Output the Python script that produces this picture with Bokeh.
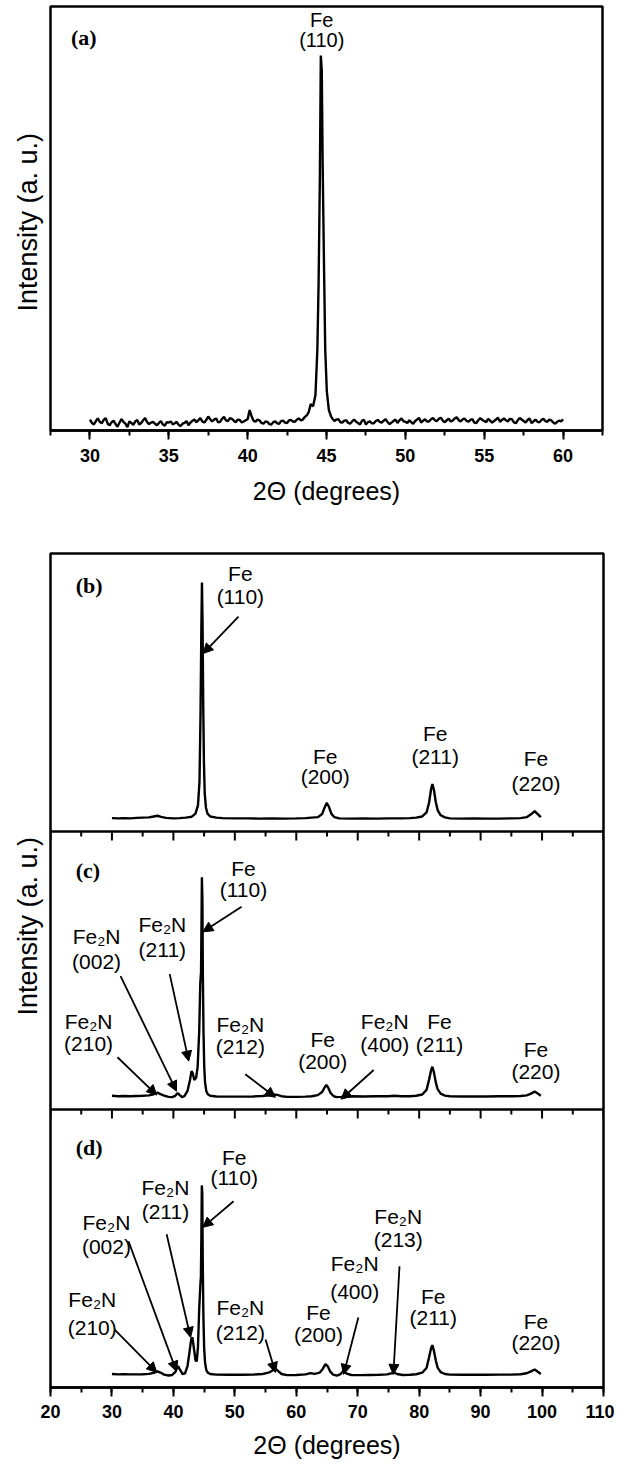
import numpy as np
from bokeh.plotting import figure
from bokeh.layouts import column
from bokeh.models import Range1d, SingleIntervalTicker, Arrow, NormalHead, Span, ColumnDataSource, Title
from bokeh.core.properties import value
from bokeh.embed import file_html
from bokeh.resources import INLINE

# ---------------- data ----------------
a_x = [30.0,30.125,30.25,30.375,30.5,30.625,30.75,30.875, 31.0,31.125,31.25,31.375,31.5,31.625,31.75,31.875,
       32.0,32.125,32.25,32.375,32.5,32.625,32.75,32.875, 33.0,33.125,33.25,33.375,33.5,33.625,33.75,33.875,
       34.0,34.125,34.25,34.375,34.5,34.625,34.75,34.875, 35.0,35.125,35.25,35.375,35.5,35.625,35.75,35.875,
       36.0,36.125,36.25,36.375,36.5,36.625,36.75,36.875, 37.0,37.125,37.25,37.375,37.5,37.625,37.75,37.875,
       38.0,38.125,38.25,38.375,38.5,38.625,38.75,38.875, 39.0,39.125,39.25,39.375,39.5,39.625,39.75,39.875,
       40.0,40.125,40.25,40.375,40.5,40.625,40.75,40.875, 41.0,41.125,41.25,41.375,41.5,41.625,41.75,41.875,
       42.0,42.125,42.25,42.375,42.5,42.625,42.75,42.875, 43.0,43.125,43.25,43.375,43.5,43.625,43.75,43.875,
       44.0,44.15,44.3,44.42,44.5,44.58,44.64,44.7,44.76,44.84,44.92,45.02,45.15,45.3,45.4,
       45.5,45.625,45.75,45.875,46.0,46.125,46.25,46.375, 46.5,46.625,46.75,46.875,47.0,47.125,47.25,47.375,
       47.5,47.625,47.75,47.875,48.0,48.125,48.25,48.375, 48.5,48.625,48.75,48.875,49.0,49.125,49.25,49.375,
       49.5,49.625,49.75,49.875,50.0,50.125,50.25,50.375, 50.5,50.625,50.75,50.875,51.0,51.125,51.25,51.375,
       51.5,51.625,51.75,51.875,52.0,52.125,52.25,52.375, 52.5,52.625,52.75,52.875,53.0,53.125,53.25,53.375,
       53.5,53.625,53.75,53.875,54.0,54.125,54.25,54.375, 54.5,54.625,54.75,54.875,55.0,55.125,55.25,55.375,
       55.5,55.625,55.75,55.875,56.0,56.125,56.25,56.375, 56.5,56.625,56.75,56.875,57.0,57.125,57.25,57.375,
       57.5,57.625,57.75,57.875,58.0,58.125,58.25,58.375, 58.5,58.625,58.75,58.875,59.0,59.125,59.25,59.375,
       59.5,59.625,59.75,59.875,60.0]
a_y = [3.5,2.6,2.2,3.1,3.8,2.9,2.5,3.4, 3.9,2.4,2.0,2.8,3.2,2.3,1.6,2.7,
       3.6,2.9,2.4,1.5,3.0,2.6,2.1,3.0, 3.4,2.2,2.6,3.3,3.9,2.8,2.3,2.7,
       2.9,2.4,2.0,2.6,3.1,2.2,1.9,2.8, 2.7,3.0,2.2,2.5,2.9,2.1,1.8,2.4,
       2.6,3.1,2.0,2.7,3.2,3.5,2.8,3.3, 3.9,3.0,2.7,3.4,4.3,3.6,3.0,3.5,
       3.8,2.8,2.9,3.7,4.2,3.3,3.1,3.9, 3.7,3.2,2.8,3.5,3.4,2.7,3.0,3.3,
       3.6,6.0,4.4,3.2,2.9,3.5,3.3,2.6, 2.4,3.0,2.9,2.3,2.2,2.8,3.0,2.5,
       2.4,3.1,3.2,2.7,2.6,3.3,3.4,3.0, 2.9,3.5,3.8,3.3,3.5,4.2,4.6,5.5,
       7.6,7.0,10,22,40,68,100,96,70,45,22,11,6,4.2,3.6,
       3.1,3.5,3.6,2.8,2.7,3.2,3.3,2.6, 2.4,3.0,3.5,2.9,2.6,2.2,3.2,3.4,
       2.2,2.8,3.0,2.5,2.5,3.1,3.4,2.9, 2.7,3.2,3.6,2.8,2.3,2.7,3.1,3.5,
       2.6,3.3,3.8,3.1,2.9,2.6,3.3,2.8, 2.4,3.1,3.5,3.9,2.7,3.2,3.6,3.0,
       3.0,3.6,3.9,3.3,3.1,3.7,4.0,3.2, 2.8,3.3,3.7,3.0,3.2,3.8,4.1,3.4,
       3.0,3.5,3.8,3.2,2.9,3.4,3.6,2.7, 2.6,3.3,3.9,3.4,3.1,2.8,3.7,3.2,
       2.7,3.1,3.5,4.0,2.9,3.4,3.8,3.3, 3.0,3.7,3.6,2.8,2.5,3.3,3.9,3.5,
       3.1,2.7,3.4,3.8,2.6,3.0,3.5,2.9, 2.8,3.4,3.7,3.1,2.9,3.5,3.3,2.7,
       2.4,2.9,3.2,3.0,3.6]

b_x = [30.0,31,32,33,34,35,36,36.8,37.4,38.0,38.8,40,41,42,43,43.6,44.0,44.25,44.42,44.55,44.65,44.75,44.85,44.97,
       45.1,45.3,45.55,46,47,48,50,52,54,56,58,60,61.5,62.5,63.5,64.2,64.6,64.95,65.3,65.7,66.2,67,69,71,73,75,77,
       78.5,79.5,80.5,81.2,81.6,81.95,82.15,82.4,82.7,83.0,83.5,84.2,85,87,89,91,93,95,96.5,97.5,98.2,98.8,99.3,99.8]
b_y = [0.6,0.5,0.6,0.5,0.7,0.8,0.9,1.3,1.6,1.1,0.7,0.5,0.6,0.8,1.2,2.5,6,16,45,80,100,82,50,24,
       11,5,2.5,1.3,0.8,0.6,0.5,0.5,0.4,0.5,0.4,0.5,0.6,0.8,1.0,2.3,5,7,5.5,2.5,1.0,0.5,0.4,0.5,0.4,0.5,0.5,
       0.6,0.8,1.3,3,7,13,15,12.5,7.5,4,1.8,0.9,0.5,0.4,0.5,0.4,0.4,0.5,0.6,1.0,2.2,3.5,2.3,1.0]

c_x = [30.0,31,32,33,34,35,36,36.8,37.4,37.9,38.5,39.2,39.8,40.3,40.7,41.0,41.4,41.8,42.3,42.7,42.95,43.15,43.4,43.7,
       43.95,44.2,44.38,44.5,44.58,44.64,44.72,44.8,44.9,45.02,45.15,45.35,45.6,46,47,49,51,53,54.5,55.5,56.3,56.9,
       57.6,58.5,60,61.5,62.5,63.5,64.2,64.6,64.9,65.2,65.6,66.1,66.6,67.3,68,69,71,73,75,76,77,78.5,79.5,80.5,81.2,
       81.6,81.95,82.15,82.4,82.7,83.0,83.5,84.2,85,87,89,91,93,95,96.5,97.5,98.2,98.8,99.3,99.8]
c_y = [0.8,0.6,0.7,0.6,0.7,0.8,1.0,1.5,2.2,1.6,0.9,0.3,0.2,0.8,2.0,1.2,0.2,0.6,3,8,12,11,8,9,
       14,30,52,57,80,100,90,55,30,14,7,3,1.5,0.8,0.5,0.4,0.4,0.5,0.7,1.0,1.4,1.2,
       0.6,0.3,0.3,0.4,0.6,1.1,2.5,4.5,5.8,4.5,2.0,0.6,0.2,0.3,0.5,0.6,0.5,0.6,0.6,0.8,0.6,0.6,0.8,1.4,3.5,
       8,12.5,14,11.5,7,3.8,1.8,0.9,0.6,0.5,0.5,0.5,0.6,0.6,0.7,1.0,1.8,2.7,1.8,0.8]

d_x = [30.0,31,32,33,34,35,36,36.8,37.4,37.9,38.5,39.2,39.8,40.3,40.75,41.1,41.5,41.9,42.3,42.65,42.9,43.1,43.35,
       43.6,43.8,44.0,44.2,44.38,44.48,44.56,44.63,44.7,44.78,44.88,45.0,45.15,45.35,45.6,46,47,49,51,53,54.5,55.5,
       56.2,56.6,57.0,57.6,58.5,60,61.5,62.3,63.0,63.8,64.3,64.75,65.1,65.5,66.0,66.6,67.2,67.7,68.2,69,70.5,72,73.5,
       74.8,75.5,75.9,76.4,77.3,78.5,79.5,80.5,81.2,81.6,81.95,82.15,82.4,82.7,83.0,83.5,84.2,85,87,89,91,93,95,
       96.5,97.5,98.2,98.8,99.3,99.8]
d_y = [0.8,0.6,0.7,0.6,0.6,0.7,0.9,1.4,2.2,1.6,0.5,0.0,0.3,1.8,5,3,0.8,1.2,5,13,19,20,14,
       8,7.5,15,35,47,52,75,100,96,60,32,15,7,3,1.5,0.8,0.5,0.4,0.4,0.5,0.8,1.5,
       2.8,3.5,2.5,0.8,0.2,0.3,0.6,1.3,0.9,1.5,3.5,6,5,2.2,0.5,0.0,0.8,2.5,1.0,0.3,0.2,0.3,0.4,
       0.6,1.2,1.6,0.8,0.3,0.4,0.7,1.5,4,9.5,14.5,16,13,8,4.2,1.8,0.8,0.5,0.4,0.4,0.4,0.5,0.5,
       0.7,1.2,2.2,3.2,2.0,0.8]

ticks_a = [30, 35, 40, 45, 50, 55, 60]
ticks_bcd = [20, 30, 40, 50, 60, 70, 80, 90, 100, 110]

# peak labels: (line1, line2, x, y_line1, y_line2)
labels_a = [("Fe", "(110)", 44.7, 109.5, 104.2)]
labels_bcd = [
    ("Fe", "(110)", 50.9, 2.928, 2.845), ("Fe", "(200)", 64.7, 2.269, 2.197),
    ("Fe", "(211)", 82.6, 2.352, 2.269), ("Fe", "(220)", 99.0, 2.262, 2.172),
    ("Fe", "(110)", 51.4, 1.866, 1.793), ("Fe\u2082N", "(211)", 38.2, 1.667, 1.577),
    ("Fe\u2082N", "(002)", 27.5, 1.621, 1.531), ("Fe\u2082N", "(210)", 26.2, 1.318, 1.239),
    ("Fe\u2082N", "(212)", 50.9, 1.307, 1.228), ("Fe", "(200)", 64.3, 1.253, 1.174),
    ("Fe\u2082N", "(400)", 74.4, 1.318, 1.235), ("Fe", "(211)", 83.3, 1.318, 1.235),
    ("Fe", "(220)", 99.0, 1.217, 1.138),
    ("Fe", "(110)", 49.9, 0.828, 0.756), ("Fe\u2082N", "(211)", 38.7, 0.720, 0.634),
    ("Fe\u2082N", "(002)", 29.1, 0.594, 0.508), ("Fe\u2082N", "(210)", 26.8, 0.317, 0.216),
    ("Fe\u2082N", "(212)", 50.9, 0.288, 0.198), ("Fe", "(200)", 63.6, 0.270, 0.191),
    ("Fe\u2082N", "(400)", 69.5, 0.447, 0.346), ("Fe\u2082N", "(213)", 76.6, 0.616, 0.533),
    ("Fe", "(211)", 82.3, 0.328, 0.252), ("Fe", "(220)", 99.0, 0.238, 0.162),
]
# arrows: (x_start, y_start, x_end, y_end)
arrows_bcd = [
    (50.6, 2.773, 44.82, 2.640),
    (51.1, 1.729, 44.8, 1.639), (39.4, 1.487, 42.5, 1.174), (31.4, 1.480, 40.5, 1.066),
    (30.9, 1.188, 37.3, 1.052), (51.7, 1.127, 56.6, 1.044), (72.6, 1.142, 67.3, 1.037),
    (49.8, 0.670, 44.78, 0.576), (38.9, 0.551, 42.8, 0.180), (32.7, 0.526, 40.5, 0.058),
    (30.4, 0.209, 37.3, 0.054), (55.0, 0.173, 56.6, 0.054), (70.1, 0.252, 67.7, 0.047),
    (76.8, 0.436, 75.8, 0.047),
]
panel_tags = [("(b)", 2.885), ("(c)", 1.858), ("(d)", 0.864)]
# panel placement in the stacked figure: (offset, scale) for b, c, d
place = {"b": (2.043, 0.00853), "c": (1.043, 0.00792), "d": (0.043, 0.00684)}

SANS = value("Liberation Sans")
SERIF = value("Liberation Serif")
FRAME_H_BCD = 834
PX_PER_UNIT = FRAME_H_BCD / 3.0


def style(p, ticker, label_standoff, title_standoff):
    p.xgrid.visible = False
    p.ygrid.visible = False
    p.yaxis.visible = False
    p.outline_line_color = "black"
    p.outline_line_width = 2.5
    p.background_fill_color = "white"
    p.border_fill_color = "white"
    ax = p.xaxis[0]
    ax.ticker = ticker
    ax.axis_line_width = 2.5
    ax.major_tick_in = 0
    ax.major_tick_out = 9
    ax.minor_tick_in = 0
    ax.minor_tick_out = 5
    ax.major_tick_line_width = 2
    ax.minor_tick_line_width = 2
    ax.major_label_text_font = "Liberation Sans"
    ax.major_label_text_font_style = "bold"
    ax.major_label_text_font_size = "18px"
    ax.major_label_text_color = "black"
    ax.major_label_standoff = label_standoff
    ax.axis_label = "2\u0398 (degrees)"
    ax.axis_label_text_font = "Liberation Sans"
    ax.axis_label_text_font_style = "normal"
    ax.axis_label_text_font_size = "25px"
    ax.axis_label_text_color = "black"
    ax.axis_label_standoff = title_standoff


def add_labels(p, labels, size):
    src = ColumnDataSource(dict(
        x=[l[2] for l in labels] * 2,
        y=[l[3] for l in labels] + [l[4] for l in labels],
        t=[l[0] for l in labels] + [l[1] for l in labels]))
    p.text(x="x", y="y", text="t", source=src, text_font=SANS, text_font_size=size,
           text_align="center", text_baseline="middle", text_color="black")


def ylabel(p, offset):
    p.add_layout(Title(text="Intensity (a. u.)", align="left", offset=offset, standoff=16,
                       text_font="Liberation Sans", text_font_style="normal", text_font_size="27px",
                       text_color="black"), "left")


# ---------------- panel (a) ----------------
pa = figure(frame_width=552, frame_height=424, x_range=Range1d(27.5, 62.5), y_range=Range1d(0.6, 113.0),
            output_backend="svg", toolbar_location=None,
            min_border_left=50, min_border_right=12, min_border_top=6, min_border_bottom=113)
style(pa, SingleIntervalTicker(interval=5, num_minor_ticks=2), 9, 12)
pa.line(a_x, a_y, line_width=2.4, line_color="black")
add_labels(pa, labels_a, "20px")
pa.text(x=[28.8], y=[104.7], text=["(a)"], text_font=SERIF, text_font_style="bold",
        text_font_size="22px", text_align="left", text_baseline="middle")
ylabel(pa, 119)

# ---------------- panels (b)-(d) ----------------
pb = figure(frame_width=553, frame_height=FRAME_H_BCD, x_range=Range1d(20, 110), y_range=Range1d(0, 3),
            output_backend="svg", toolbar_location=None,
            min_border_left=49, min_border_right=12, min_border_top=10, min_border_bottom=79)
style(pb, SingleIntervalTicker(interval=10, num_minor_ticks=2), 8, 10)

for key, xs, ys in (("b", b_x, b_y), ("c", c_x, c_y), ("d", d_x, d_y)):
    off, sc = place[key]
    pb.line(xs, off + np.array(ys) * sc, line_width=2.4, line_color="black")

for loc in (1, 2):
    pb.add_layout(Span(location=loc, dimension="width", line_color="black", line_width=2.5))
    majors = ticks_bcd
    minors = [t + 5 for t in ticks_bcd[:-1]]
    pb.segment(x0=majors, y0=[loc] * len(majors), x1=majors, y1=[loc - 9 / PX_PER_UNIT] * len(majors),
               line_color="black", line_width=2)
    pb.segment(x0=minors, y0=[loc] * len(minors), x1=minors, y1=[loc - 5 / PX_PER_UNIT] * len(minors),
               line_color="black", line_width=2)

add_labels(pb, labels_bcd, "21px")
pb.text(x=[24.1] * 3, y=[t[1] for t in panel_tags], text=[t[0] for t in panel_tags], text_font=SERIF,
        text_font_style="bold", text_font_size="22px", text_align="left", text_baseline="middle")

for xs0, ys0, xe, ye in arrows_bcd:
    pb.add_layout(Arrow(end=NormalHead(size=10, fill_color="black", line_color="black", line_width=1),
                        x_start=xs0, y_start=ys0, x_end=xe, y_end=ye, line_width=1.8, line_color="black"))

ylabel(pb, 372)

layout = column(pa, pb, spacing=0)
open("out.html", "w").write(file_html(layout, INLINE))
